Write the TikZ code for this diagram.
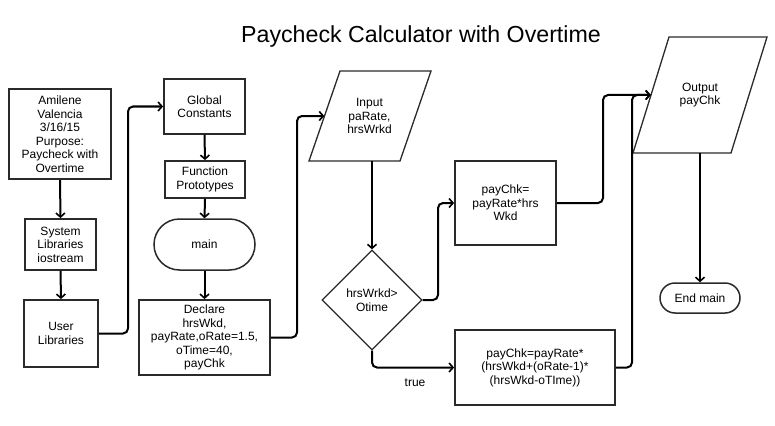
\documentclass[tikz,border=0pt]{standalone}
\usepackage{fontspec}
\setmainfont{Liberation Sans}
\usetikzlibrary{shapes.geometric,shapes.misc,arrows.meta}
\definecolor{boxline}{HTML}{2A2A2A}
\begin{document}
\begin{tikzpicture}[x=1pt,y=-1pt,
  every node/.style={font=\fontsize{12}{13.5}\selectfont, align=center, inner sep=0pt},
  procbox/.style={draw=boxline, line width=1.8pt, rectangle},
  paraline/.style={draw=boxline, line width=1.3pt, line join=miter},
  decbox/.style={draw=boxline, line width=1.3pt, diamond, aspect=1, minimum width=100pt, minimum height=100pt},
  term/.style={draw=boxline, line width=1.5pt, rounded rectangle},
  conn/.style={draw=black, line width=2pt, rounded corners=5pt, -{Straight Barb[length=4pt,width=9pt,line width=1.6pt]}}
]
\useasboundingbox (0,0) rectangle (775,425);
\fill[white] (0,0) rectangle (775,425);

\node[font=\fontsize{23.2}{27}\selectfont] (title) at (421,37) {Paycheck Calculator with Overtime};

\node[procbox, minimum width=102pt, minimum height=90pt] (author) at (60,134)
  {Amilene\\Valencia\\3/16/15\\Purpose:\\Paycheck with\\Overtime};
\node[procbox, minimum width=71pt, minimum height=51pt] (sys) at (60.5,244.5)
  {System\\Libraries\\iostream};
\node[procbox, minimum width=74pt, minimum height=67pt] (user) at (61,333.5)
  {User\\Libraries};

\node[procbox, minimum width=81pt, minimum height=55pt] (global) at (204.5,106.5)
  {Global\\Constants};
\node[procbox, minimum width=80pt, minimum height=37pt] (funcs) at (205,179.5)
  {Function\\Prototypes};
\node[term, minimum width=101pt, minimum height=51pt] (main) at (204.5,244.5) {main};
\node[procbox, minimum width=131pt, minimum height=75pt] (declare) at (204.5,337.5)
  {Declare\\hrsWkd,\\payRate,oRate=1.5,\\oTime=40,\\payChk};

% Input parallelogram
\node[minimum width=90pt, minimum height=90pt] (input) at (369.5,116)
  {Input\\paRate,\\hrsWrkd};
\draw[paraline] (input.center) ++(-29.5,-45) -- ++(91,0) -- ++(-31,90) -- ++(-91,0) -- cycle;

\node[decbox] (dec) at (372,300) {hrsWrkd>\\Otime};

\node[procbox, minimum width=101pt, minimum height=84pt] (p1) at (505.5,203)
  {payChk=\\payRate*hrs\\Wkd};
\node[procbox, minimum width=160pt, minimum height=75pt] (p2) at (535,367.5)
  {payChk=payRate*\\(hrsWkd+(oRate-1)*\\(hrsWkd-oTIme))};

% Output parallelogram
\node[minimum width=98pt, minimum height=116pt] (output) at (700,95)
  {Output\\payChk};
\draw[paraline] (output.center) ++(-31,-58) -- ++(98,0) -- ++(-36,116) -- ++(-98,0) -- cycle;

\node[term, minimum width=80pt, minimum height=30pt] (endmain) at (700,298) {End main};

\node (truelbl) at (415,383) {true};

\coordinate (b1) at (128,220);
\coordinate (b2) at (297,220);
\coordinate (b3) at (438,250);
\coordinate (b5) at (603,150);
\coordinate (b6) at (632,250);

\draw[conn] (author.south) -- (sys.north);
\draw[conn] (sys.south) -- (user.north);
\draw[conn] (user.east) -| (b1) |- (global.west);
\draw[conn] (global.south) -- (funcs.north);
\draw[conn] (funcs.south) -- (main.north);
\draw[conn] (main.south) -- (declare.north);
\draw[conn] (declare.east) -| (b2) |- (input.west);
\draw[conn] (dec.north |- input.south) -- (dec.north);
\draw[conn] (dec.east) -| (b3) |- (p1.west);
\draw[conn] (dec.south) |- (p2.west);
\draw[conn] (p1.east) -| (b5) |- (output.west);
\draw[conn] (p2.east) -| (b6) |- (output.west);
\draw[conn] (endmain.north |- output.south) -- (endmain.north);
\end{tikzpicture}
\end{document}
